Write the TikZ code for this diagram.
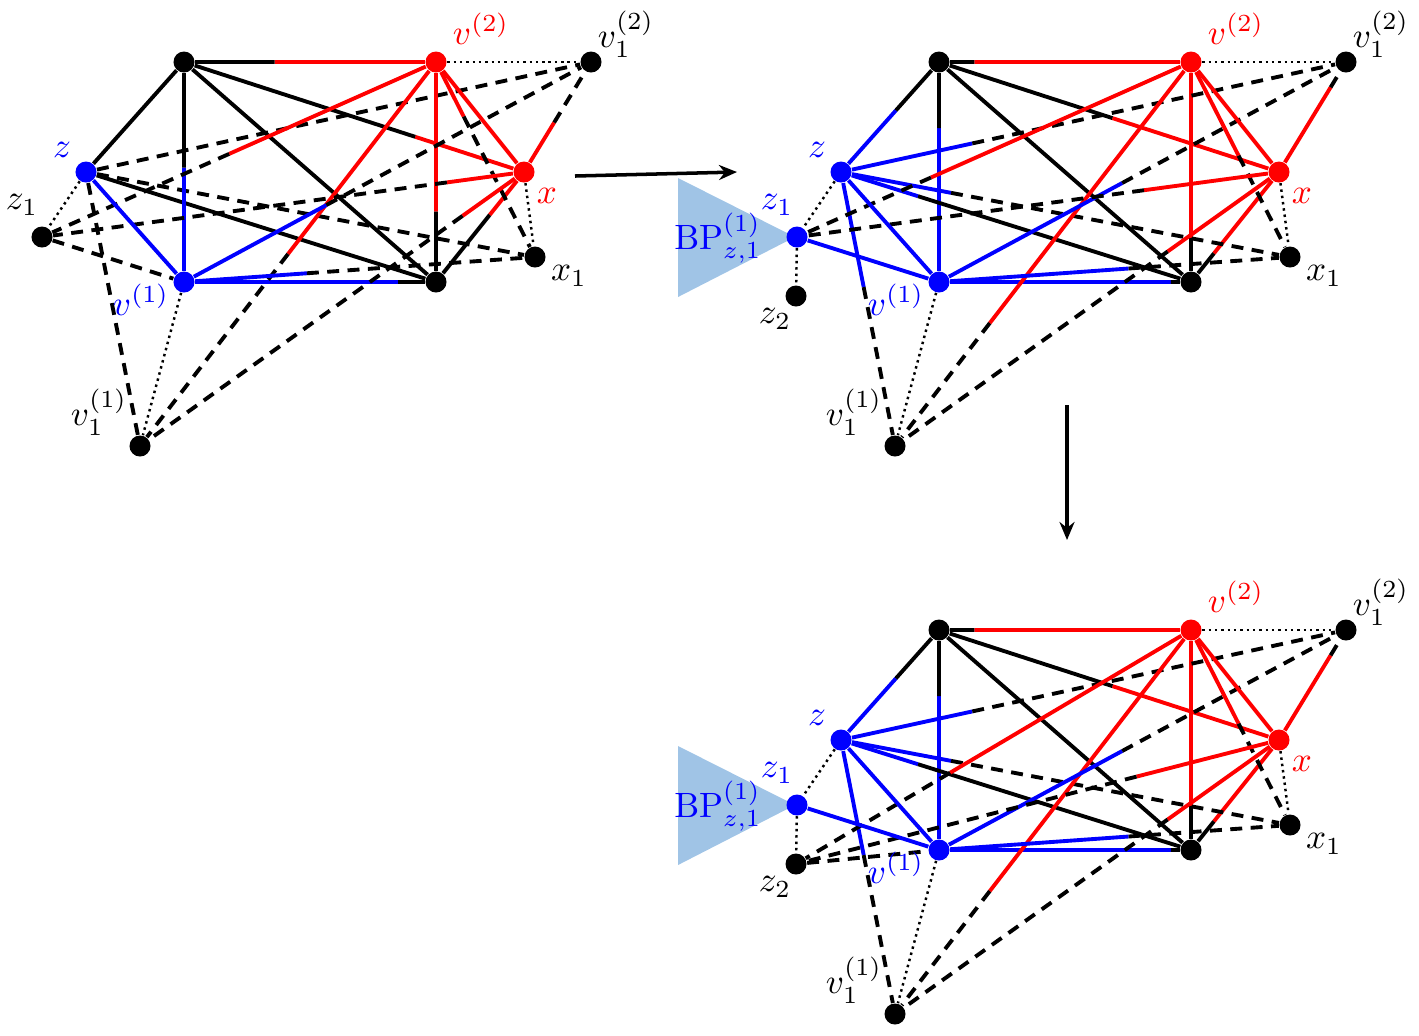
\documentclass[tikz,border=0pt]{standalone}
\usepackage{amsmath}
\usetikzlibrary{arrows.meta,positioning,calc}
\definecolor{bpfill}{RGB}{160,196,230}
\tikzset{
  vtx/.style={circle,fill=#1,inner sep=0pt,minimum size=2.1mm},
  vtx/.default=black,
  ln/.style={line width=1.1pt},
  solidln/.style={ln},
  dashln/.style={ln,dash pattern=on 3.4pt off 2.4pt},
  dotln/.style={line width=0.7pt,dash pattern=on 0.7pt off 1.1pt},
  arr/.style={-{Stealth[length=1.8mm,width=1.5mm]},line width=1pt},
  lbl/.style={inner sep=0pt},
}
% coloured piece from #1, then the rest up to #2
\newcommand{\splitln}[5]{%
  \draw[ln,#4] (#1) -- ($(#1)!#3!(#2)$);
  \draw[#5] ($(#1)!#3!(#2)$) -- (#2);}
\newcommand{\panelnodes}[1]{%
  \node[vtx] (a) at (184,62) {};
  \node[vtx=red] (v2) at (436,62) {};
  \node[vtx] (v12) at (591,62) {};
  \node[vtx=blue] (z) at (86,172) {};
  \node[vtx=red] (x) at (524,172) {};
  \node[vtx=#1] (z1) at (42,237) {};
  \node[vtx] (x1) at (535,257) {};
  \node[vtx=blue] (v1) at (184,282) {};
  \node[vtx] (b) at (436,282) {};
  \node[vtx] (v11) at (140,446) {};}
\newcommand{\panellabels}[1]{%
  \node[lbl,red] (lv2) at (481,29) {$v^{(2)}$};
  \node[lbl] (lv12) at (626,34) {$v_1^{(2)}$};
  \node[lbl,blue] (lz) at (62,150) {$z$};
  \node[lbl,red] (lx) at (547,196) {$x$};
  \node[lbl,#1] (lz1) at (22,205) {$z_1$};
  \node[lbl] (lx1) at (569,276) {$x_1$};
  \node[lbl,blue] (lv1) at (141,300) {$v^{(1)}$};
  \node[lbl] (lv11) at (99,412) {$v_1^{(1)}$};}
% edges shared by the two lower-right panels
\newcommand{\bpsplits}{z/a/0.56/blue/solidln, v1/a/0.70/blue/solidln,
  v2/a/0.86/red/solidln, x/a/0.49/red/solidln, z/b/0.22/blue/solidln,
  v1/b/0.92/blue/solidln, v2/b/0.80/red/solidln, x/b/0.74/red/solidln,
  z/v12/0.26/blue/dashln, z/x1/0.245/blue/dashln, z/v11/0.42/blue/dashln,
  v2/v11/0.68/red/dashln, v2/x1/0.48/red/dashln, x/v11/0.29/red/dashln,
  x/v12/0.77/red/dashln, v1/v12/0.45/blue/dashln, v1/x1/0.54/blue/dashln}

\begin{document}
\begin{tikzpicture}[x=0.01cm,y=-0.01cm]
\useasboundingbox (0,0) rectangle (1419,1035);

% first graph
\begin{scope}[name prefix=p1-]
\panelnodes{black}
\foreach \u/\w in {a/z,a/b,z/b}{\draw[solidln] (\u) -- (\w);}
\foreach \u/\w in {z/v12,z/x1,z/v11,z1/v1}{\draw[dashln] (\u) -- (\w);}
\foreach \u/\w in {z/z1,x/x1,v1/v11,v2/v12}{\draw[dotln] (\u) -- (\w);}
\foreach \u/\w/\f/\c/\s in {v2/a/0.64/red/solidln, x/a/0.32/red/solidln,
    v1/a/0.52/blue/solidln, v1/b/0.85/blue/solidln, v2/b/0.68/red/solidln,
    x/b/0.39/red/solidln, v2/z1/0.525/red/dashln, v2/v11/0.50/red/dashln,
    v2/x1/0.28/red/dashln, x/z1/0.16/red/dashln, x/v11/0.16/red/dashln,
    x/v12/0.45/red/dashln, v1/v12/0.35/blue/dashln, v1/x1/0.35/blue/dashln}{
  \splitln{\u}{\w}{\f}{\c}{\s}}
\draw[ln,blue] (z) -- (v1);
\draw[ln,red] (v2) -- (x);
\panellabels{black}
\end{scope}

% after the first step
\begin{scope}[shift={(755,0)},name prefix=p2-]
\fill[bpfill] (-77,178) -- (-77,297) -- (40,237) -- cycle;
\panelnodes{blue}
\node[vtx] (z2) at (41,296) {};
\draw[solidln] (a) -- (b);
\foreach \u/\w in {z/z1,z1/z2,x/x1,v1/v11,v2/v12}{\draw[dotln] (\u) -- (\w);}
\foreach \u/\w/\f/\c/\s in \bpsplits{\splitln{\u}{\w}{\f}{\c}{\s}}
\foreach \u/\w/\f/\c/\s in {v2/z1/0.66/red/dashln, x/z1/0.28/red/dashln}{
  \splitln{\u}{\w}{\f}{\c}{\s}}
\foreach \u/\w in {z/v1,z1/v1}{\draw[ln,blue] (\u) -- (\w);}
\draw[ln,red] (v2) -- (x);
\panellabels{blue}
\node[lbl] (lz2) at (20,319) {$z_2$};
\node[lbl,blue] (bp) at (-37,238) {$\mathrm{BP}^{(1)}_{z,1}$};
\end{scope}

% after the second step
\begin{scope}[shift={(755,568)},name prefix=p3-]
\fill[bpfill] (-77,178) -- (-77,297) -- (40,237) -- cycle;
\panelnodes{blue}
\node[vtx] (z2) at (41,296) {};
\draw[solidln] (a) -- (b);
\draw[dashln] (z2) -- (v1);
\foreach \u/\w in {z/z1,z1/z2,x/x1,v1/v11,v2/v12}{\draw[dotln] (\u) -- (\w);}
\foreach \u/\w/\f/\c/\s in \bpsplits{\splitln{\u}{\w}{\f}{\c}{\s}}
\foreach \u/\w/\f/\c/\s in {v2/z2/0.61/red/dashln, x/z2/0.295/red/dashln}{
  \splitln{\u}{\w}{\f}{\c}{\s}}
\foreach \u/\w in {z/v1,z1/v1}{\draw[ln,blue] (\u) -- (\w);}
\draw[ln,red] (v2) -- (x);
\panellabels{blue}
\node[lbl] (lz2) at (20,319) {$z_2$};
\node[lbl,blue] (bp) at (-37,238) {$\mathrm{BP}^{(1)}_{z,1}$};
\end{scope}

% steps
\coordinate (r1) at (575,176);
\coordinate (r2) at (737,172);
\coordinate (d1) at (1067,405);
\coordinate (d2) at (1067,540);
\draw[arr] (r1) -- (r2);
\draw[arr] (d1) -- (d2);
\end{tikzpicture}
\end{document}
